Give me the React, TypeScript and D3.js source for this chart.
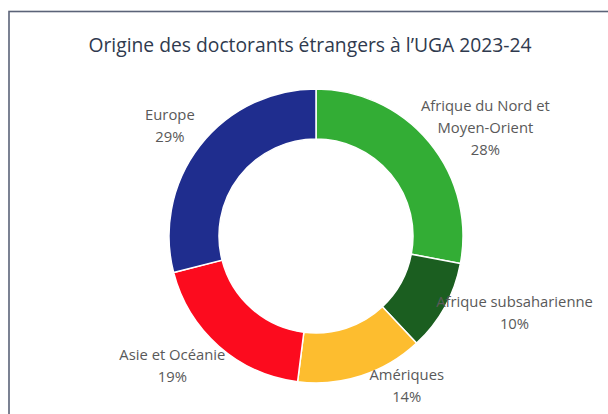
import React from "react";
import * as d3 from "d3";

const width = 608;
const height = 414;

const regions = [
  "Afrique du Nord et Moyen-Orient",
  "Afrique subsaharienne",
  "Amériques",
  "Asie et Océanie",
  "Europe",
];
const shares = [28, 10, 14, 19, 29];
const colors = ["#33ad35", "#1b5e20", "#fdbd2f", "#fc0b1e", "#1f2d8e"];
const labelLines = [
  ["Afrique du Nord et", "Moyen-Orient"],
  ["Afrique subsaharienne"],
  ["Amériques"],
  ["Asie et Océanie"],
  ["Europe"],
];

const title = "Origine des doctorants étrangers à l’UGA 2023-24";

// label nudges from the centroid of the label ring, Excel-style placement
const nudges: [number, number][] = [
  [23, 13],
  [32, -15],
  [32, -31],
  [-18, -13],
  [4, 6],
];

const cx = 316;
const cy = 236;
const outerR = 147;
const innerR = 97;
const labelR = 190;

export default function App() {
  const pie = d3
    .pie<number>()
    .sort(null)
    .value((d) => d);
  const arcs = pie(shares);
  const arc = d3
    .arc<d3.PieArcDatum<number>>()
    .innerRadius(innerR)
    .outerRadius(outerR);
  const labelArc = d3
    .arc<d3.PieArcDatum<number>>()
    .innerRadius(labelR)
    .outerRadius(labelR);
  const lineH = 22;

  return (
    <svg
      width={width}
      height={height}
      style={{ position: "absolute", left: 0, top: 0, background: "#fff" }}
    >
      <rect
        x={9}
        y={11.5}
        width={width + 10}
        height={height + 10}
        fill="#fff"
        stroke="#5b6378"
        strokeWidth={1.6}
      />
      <text
        x={310}
        y={52}
        textAnchor="middle"
        fontFamily="'Open Sans', sans-serif"
        fontSize={19.3}
        fill="#2f3a4e"
      >
        {title}
      </text>
      <g transform={`translate(${cx},${cy})`}>
        {arcs.map((a, i) => (
          <path
            key={regions[i]}
            d={arc(a) || ""}
            fill={colors[i]}
            stroke="#fff"
            strokeWidth={1.5}
          />
        ))}
        {arcs.map((a, i) => {
          const [lx, ly] = labelArc.centroid(a);
          const lines = [...labelLines[i], `${shares[i]}%`];
          const x = lx + nudges[i][0];
          const y0 = ly + nudges[i][1] - ((lines.length - 1) * lineH) / 2;
          return (
            <text
              key={"l" + i}
              textAnchor="middle"
              fontFamily="'Open Sans', sans-serif"
              fontSize={14.8}
              fill="#595959"
            >
              {lines.map((t, j) => (
                <tspan key={j} x={x} y={y0 + j * lineH + 5}>
                  {t}
                </tspan>
              ))}
            </text>
          );
        })}
      </g>
    </svg>
  );
}
